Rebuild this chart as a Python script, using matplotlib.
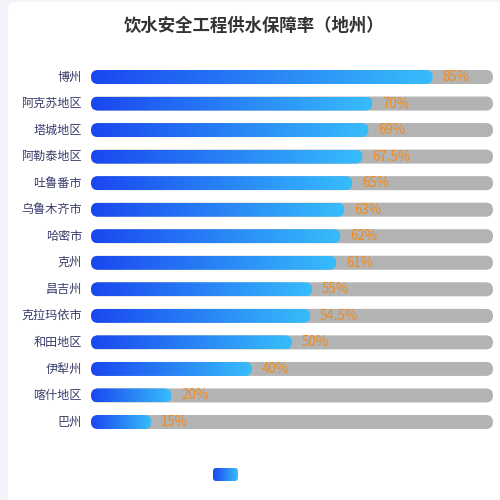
import numpy as np
import matplotlib
matplotlib.use("Agg")
import matplotlib.pyplot as plt
from matplotlib.patches import FancyBboxPatch
from matplotlib.colors import LinearSegmentedColormap

plt.rcParams['font.family'] = ['Noto Sans CJK SC', 'DejaVu Sans']

title = '饮水安全工程供水保障率（地州）'
regions = ['博州', '阿克苏地区', '塔城地区', '阿勒泰地区', '吐鲁番市', '乌鲁木齐市', '哈密市',
           '克州', '昌吉州', '克拉玛依市', '和田地区', '伊犁州', '喀什地区', '巴州']
rates = [85, 70, 69, 67.5, 65, 63, 62, 61, 55, 54.5, 50, 40, 20, 15]
labels = ['85%', '70%', '69%', '67.5%', '65%', '63%', '62%', '61%', '55%', '54.5%',
          '50%', '40%', '20%', '15%']
full = 100

W, H = 500, 500
fig = plt.figure(figsize=(5, 5), dpi=100)
fig.patch.set_facecolor('#f3f4f9')

# white card behind everything
card = FancyBboxPatch((8 / W, -10 / H), (W + 20 - 8) / W, (H + 8) / H,
                      boxstyle='round,pad=0,rounding_size=0.016',
                      transform=fig.transFigure, facecolor='white',
                      edgecolor='none', zorder=-5)
fig.patches.append(card)

fig.text(254 / W, 1 - 26 / H, title, ha='center', va='center',
         fontsize=12.5, fontweight='bold', color='#333333')

# axes geometry (pixels)
x0, x1 = 91, 493
y_first, y_last = 77, 422
n = len(regions)
step = (y_last - y_first) / (n - 1)
top = y_first - step / 2
bottom = y_last + step / 2
ax = fig.add_axes([x0 / W, 1 - bottom / H, (x1 - x0) / W, (bottom - top) / H])
ax.set_zorder(1)
ax.patch.set_alpha(0)
ax.axis('off')

bar_px = 14
px_per_x = (x1 - x0) / full
px_per_y = step
bh = bar_px / px_per_y
r_x = (bar_px / 2) / px_per_x
aspect = (bar_px / 2 / px_per_y) / r_x

cmap = LinearSegmentedColormap.from_list('bl', ['#1a47f0', '#37bdfb'])
grad = np.linspace(0, 1, 256).reshape(1, -1)

for i, (name, v, lab) in enumerate(zip(regions, rates, labels)):
    bg = FancyBboxPatch((0, i - bh / 2), full, bh,
                        boxstyle=f'round,pad=0,rounding_size={r_x}',
                        mutation_aspect=aspect, facecolor='#b3b3b3',
                        edgecolor='none', zorder=1)
    ax.add_patch(bg)
    fg = FancyBboxPatch((0, i - bh / 2), v, bh,
                        boxstyle=f'round,pad=0,rounding_size={r_x}',
                        mutation_aspect=aspect, facecolor='none',
                        edgecolor='none', zorder=2)
    ax.add_patch(fg)
    im = ax.imshow(grad, cmap=cmap, aspect='auto',
                   extent=(0, v, i + bh / 2, i - bh / 2), zorder=2,
                   interpolation='bilinear')
    im.set_clip_path(fg)
    ax.text(v + 10 / px_per_x, i, lab, ha='left', va='center',
            fontsize=9.6, color='#f28a1c', zorder=3)
    ax.text(-9 / px_per_x, i, name, ha='right', va='center',
            fontsize=8.7, color='#3a3d6b', zorder=3)

ax.set_xlim(0, full)
ax.set_ylim(n - 0.5, -0.5)

# legend swatch
lx0, ly0, lw, lh = 213, 468, 25, 13
lax = fig.add_axes([lx0 / W, 1 - (ly0 + lh) / H, lw / W, lh / H])
lax.set_zorder(1)
lax.axis('off')
lax.set_xlim(0, 1)
lax.set_ylim(0, 1)
sw = FancyBboxPatch((0, 0), 1, 1, boxstyle='round,pad=0,rounding_size=0.12',
                    mutation_aspect=lw / lh, facecolor='none', edgecolor='none',
                    transform=lax.transData)
lax.add_patch(sw)
lim = lax.imshow(grad, cmap=cmap, aspect='auto', extent=(0, 1, 0, 1),
                 interpolation='bilinear')
lim.set_clip_path(sw)

fig.savefig('out.png', dpi=100)
